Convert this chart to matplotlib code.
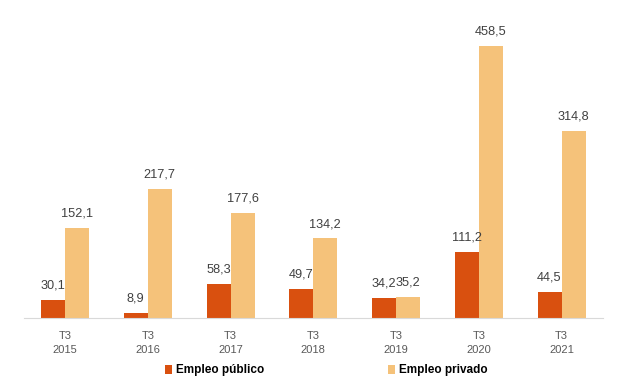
import numpy as np
import matplotlib.pyplot as plt

years = ["2015", "2016", "2017", "2018", "2019", "2020", "2021"]
publico = [30.1, 8.9, 58.3, 49.7, 34.2, 111.2, 44.5]
privado = [152.1, 217.7, 177.6, 134.2, 35.2, 458.5, 314.8]
series_names = ["Empleo público", "Empleo privado"]

col_pub = "#D9500F"
col_priv = "#F5C27A"

fig = plt.figure(figsize=(6.4, 3.87), dpi=100)
ax = fig.add_axes([0.037, 0.178, 0.905, 0.81])

x = np.arange(len(years))
w = 0.29
b1 = ax.bar(x - w / 2, publico, w, color=col_pub, label=series_names[0])
b2 = ax.bar(x + w / 2, privado, w, color=col_priv, label=series_names[1])

def fmt(v):
    return f"{v:.1f}".replace(".", ",")

for rects, vals in [(b1, publico), (b2, privado)]:
    for r, v in zip(rects, vals):
        ax.annotate(fmt(v), (r.get_x() + r.get_width() / 2, v),
                    xytext=(0, 6), textcoords="offset points",
                    ha="center", va="bottom", fontsize=9.2, color="#404040",
                    family="Liberation Sans")

ax.set_xlim(-0.5, len(years) - 0.5)
ax.set_ylim(0, 528)
ax.set_xticks(x)
ax.set_xticklabels([f"T3\n{y}" for y in years], fontsize=8, color="#595959",
                   family="Liberation Sans", linespacing=1.6)
ax.tick_params(axis="x", length=0, pad=9)
ax.set_yticks([])
for s in ["top", "right", "left"]:
    ax.spines[s].set_visible(False)
ax.spines["bottom"].set_color("#d9d9d9")

fig.legend(handles=[b1, b2], labels=series_names, loc="lower center",
           bbox_to_anchor=(0.51, 0.0), ncol=2, frameon=False,
           handlelength=0.6, handleheight=0.8, handletextpad=0.3,
           columnspacing=10.5,
           prop={"family": "Liberation Sans", "weight": "bold", "size": 8.5})

fig.savefig("out.png", dpi=100)
